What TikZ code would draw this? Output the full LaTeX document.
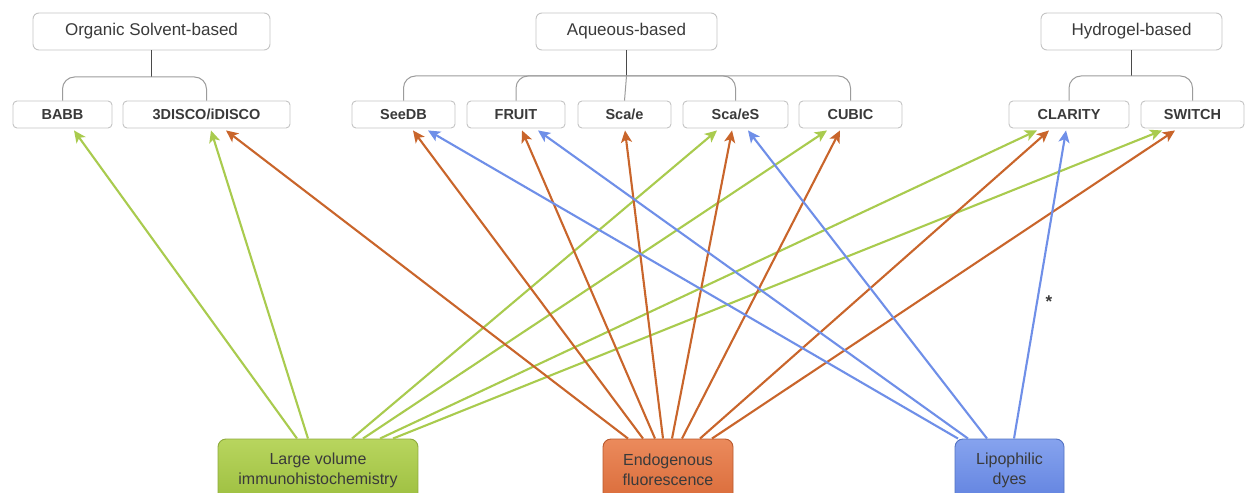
\documentclass[tikz,border=0pt]{standalone}
\usepackage{fontspec}
\setmainfont{Liberation Sans}
\usetikzlibrary{arrows.meta}
\definecolor{txt}{HTML}{3A3A3A}
\definecolor{boxgray}{HTML}{C4C4C4}
\definecolor{stemgray}{HTML}{4A4A4A}
\definecolor{brgray}{HTML}{9C9C9C}
\definecolor{gline}{HTML}{A9CB4E}
\definecolor{oline}{HTML}{C9652B}
\definecolor{bline}{HTML}{6F8FE8}
\definecolor{gtop}{HTML}{B8D55E}
\definecolor{gbot}{HTML}{9DBF40}
\definecolor{gbrd}{HTML}{8EAB3C}
\definecolor{otop}{HTML}{EB8A5C}
\definecolor{obot}{HTML}{DA6C3A}
\definecolor{obrd}{HTML}{B9592D}
\definecolor{btop}{HTML}{86A3EE}
\definecolor{bbot}{HTML}{6283E0}
\definecolor{bbrd}{HTML}{5272C2}
\tikzset{
  cat/.style={draw=boxgray, line width=0.9pt, rounded corners=6pt, fill=white, minimum width=#1, minimum height=37pt, inner sep=0pt, text=txt, font=\fontsize{17}{20}\selectfont},
  meth/.style={draw=boxgray, line width=0.9pt, rounded corners=4pt, fill=white, minimum width=#1, minimum height=27pt, inner sep=0pt, text=txt, font=\bfseries\fontsize{14.5}{17}\selectfont},
  srcbox/.style={rounded corners=8pt, line width=0.9pt, minimum width=#1, minimum height=62pt, inner sep=0pt, align=center, text=txt, font=\fontsize{16}{20}\selectfont},
  stem/.style={draw=stemgray, line width=1.2pt},
  brack/.style={draw=brgray, line width=1pt, rounded corners=12pt},
  tip/.style={-{Stealth[length=12pt,width=11pt,inset=3pt]}},
  garr/.style={draw=gline, line width=2.1pt, tip},
  oarr/.style={draw=oline, line width=2.1pt, tip},
  barr/.style={draw=bline, line width=2.1pt, tip},
}
\begin{document}
\begin{tikzpicture}[x=1pt,y=-1pt]
\useasboundingbox (0,0) rectangle (1246,492);
\clip (0,0) rectangle (1246,492);
\fill[white] (0,0) rectangle (1246,492);

% category boxes
\node[cat=237pt] (org) at (151.5,31.5) {Organic Solvent-based};
\node[cat=181pt] (aq)  at (626.5,31.5) {Aqueous-based};
\node[cat=181pt] (hyd) at (1131.5,31.5) {Hydrogel-based};

% method boxes
\node[meth=99pt]  (babb)    at (62.5,114.5)  {BABB};
\node[meth=167pt] (disco)   at (206.5,114.5) {3DISCO/iDISCO};
\node[meth=103pt] (seedb)   at (403.5,114.5) {SeeDB};
\node[meth=98pt]  (fruit)   at (516,114.5)   {FRUIT};
\node[meth=93pt]  (scae)    at (624.5,114.5) {Sca/e};
\node[meth=105pt] (scaes)   at (735.5,114.5) {Sca/eS};
\node[meth=103pt] (cubic)   at (850.5,114.5) {CUBIC};
\node[meth=120pt] (clarity) at (1069,114.5)  {CLARITY};
\node[meth=103pt] (switch)  at (1192.5,114.5){SWITCH};

% tree connectors
\coordinate (orgj) at (151.5,77);
\coordinate (aqj)  at (626.5,76);
\coordinate (hydj) at (1131.5,76);
\draw[stem] (org) -- (orgj);
\draw[stem] (aq) -- (aqj);
\draw[stem] (hyd) -- (hydj);
\draw[brack] (orgj) -| (babb.north);
\draw[brack] (orgj) -| (disco.north);
\draw[brack] (aqj) -| (seedb.north);
\draw[brack] (aqj) -| (fruit.north);
\draw[brack] (aqj) -- (scae.north);
\draw[brack] (aqj) -| (scaes.north);
\draw[brack] (aqj) -| (cubic.north);
\draw[brack] (hydj) -| (clarity.north);
\draw[brack] (hydj) -| (switch.north);

% source boxes
\node[srcbox=200pt, draw=gbrd, top color=gtop, bottom color=gbot] (lv) at (318,470) {Large volume\\immunohistochemistry};
\node[srcbox=130pt, draw=obrd, top color=otop, bottom color=obot] (endo) at (668,470) {Endogenous\\fluorescence};
\node[srcbox=109pt, draw=bbrd, top color=btop, bottom color=bbot] (lip) at (1009.5,470) {Lipophilic\\dyes};

% green arrows
\draw[garr] ([xshift=-21pt]lv.north) -- ([xshift=11.5pt,yshift=-2pt]babb.south);
\draw[garr] ([xshift=-10pt]lv.north) -- ([xshift=4.5pt,yshift=-2pt]disco.south);
\draw[garr] ([xshift=34pt]lv.north) -- ([xshift=-18.5pt,yshift=-2pt]scaes.south);
\draw[garr] ([xshift=45pt]lv.north) -- ([xshift=-23.5pt,yshift=-2pt]cubic.south);
\draw[garr] ([xshift=62pt]lv.north) -- ([xshift=-32pt,yshift=-2pt]clarity.south);
\draw[garr] ([xshift=75pt]lv.north) -- ([xshift=-30.5pt,yshift=-2pt]switch.south);

% orange arrows
\draw[oarr] ([xshift=-40pt]endo.north) -- ([xshift=19.5pt,yshift=-2pt]disco.south);
\draw[oarr] ([xshift=-25pt]endo.north) -- ([xshift=9.5pt,yshift=-2pt]seedb.south);
\draw[oarr] ([xshift=-13pt]endo.north) -- ([xshift=6pt,yshift=-2pt]fruit.south);
\draw[oarr] ([xshift=-5pt]endo.north) -- ([xshift=0.5pt,yshift=-2pt]scae.south);
\draw[oarr] ([xshift=4pt]endo.north) -- ([xshift=-3.5pt,yshift=-2pt]scaes.south);
\draw[oarr] ([xshift=14pt]endo.north) -- ([xshift=-10.5pt,yshift=-2pt]cubic.south);
\draw[oarr] ([xshift=32pt]endo.north) -- ([xshift=-20pt,yshift=-2pt]clarity.south);
\draw[oarr] ([xshift=44pt]endo.north) -- ([xshift=-17.5pt,yshift=-2pt]switch.south);

% blue arrows
\draw[barr] ([xshift=-51.5pt]lip.north) -- ([xshift=24.5pt,yshift=-2pt]seedb.south);
\draw[barr] ([xshift=-41.5pt]lip.north) -- ([xshift=22pt,yshift=-2pt]fruit.south);
\draw[barr] ([xshift=-22.5pt]lip.north) -- ([xshift=12.5pt,yshift=-2pt]scaes.south);
\draw[barr] ([xshift=4.5pt]lip.north) -- ([xshift=-3pt,yshift=-2pt]clarity.south);

\node[text=txt, font=\bfseries\fontsize{17}{20}\selectfont] (ast) at (1049,302) {*};
\end{tikzpicture}
\end{document}
